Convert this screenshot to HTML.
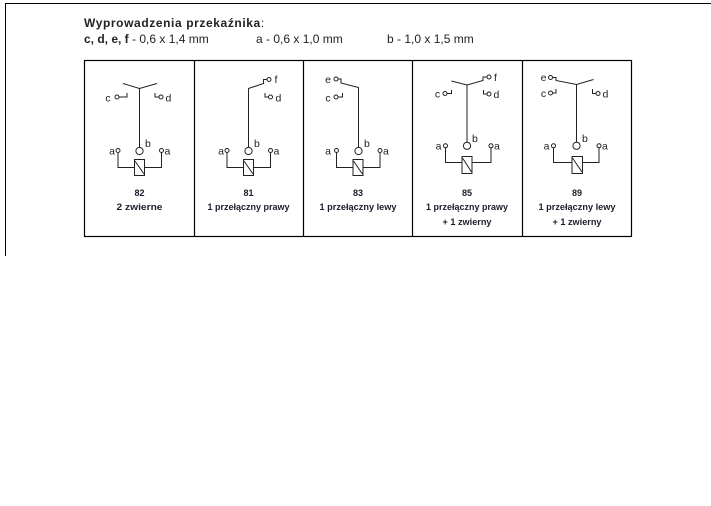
<!DOCTYPE html>
<html><head><meta charset="utf-8"><style>
html,body{margin:0;padding:0;background:#fff;}
svg{display:block;}
text{font-family:"Liberation Sans",sans-serif;}
</style></head><body>
<svg width="711" height="506" viewBox="0 0 711 506" xmlns="http://www.w3.org/2000/svg">
<line x1="5" y1="3.5" x2="711" y2="3.5" stroke="#000" stroke-width="1"/>
<line x1="5.5" y1="3" x2="5.5" y2="256" stroke="#000" stroke-width="1"/>
<text x="84" y="27" font-size="12" font-weight="bold" fill="#222" letter-spacing="0.6">Wyprowadzenia przekaźnika<tspan font-weight="normal">:</tspan></text>
<text x="84" y="43" font-size="12" fill="#222"><tspan font-weight="bold">c, d, e, f</tspan> - 0,6 x 1,4 mm</text>
<text x="256" y="43" font-size="12" fill="#222">a - 0,6 x 1,0 mm</text>
<text x="387" y="43" font-size="12" fill="#222">b - 1,0 x 1,5 mm</text>

<rect x="84.5" y="60.5" width="547" height="176" fill="none" stroke="#000" stroke-width="1.2"/>
<g stroke="#000" stroke-width="1.2">
<line x1="194.5" y1="60" x2="194.5" y2="236"/>
<line x1="303.5" y1="60" x2="303.5" y2="236"/>
<line x1="412.5" y1="60" x2="412.5" y2="236"/>
<line x1="522.5" y1="60" x2="522.5" y2="236"/>
</g>

<g fill="none" stroke="#222" stroke-width="1">
<polyline points="123,83.5 139.5,88.5 157,83.5"/>
<line x1="139.5" y1="88.5" x2="139.5" y2="147"/>
<circle cx="139.5" cy="151" r="3.6"/>
<circle cx="117" cy="97" r="2"/><polyline points="119,97 127,97 127,93"/>
<polyline points="155,93 155,97 159,97"/><circle cx="161" cy="97" r="2"/>
<circle cx="118" cy="150.5" r="2"/><polyline points="118,152.5 118,167.5 134.5,167.5"/>
<rect x="134.5" y="159.5" width="10" height="16"/><line x1="135" y1="161" x2="144" y2="174"/>
<polyline points="144.5,167.5 161.5,167.5 161.5,152.5"/><circle cx="161.5" cy="150.5" r="2"/>

<polyline points="248.5,147 248.5,88.5 263.5,83.5 263.5,79.5 267,79.5"/>
<circle cx="248.5" cy="151" r="3.6"/>
<circle cx="269" cy="79.5" r="2"/>
<polyline points="265,93 265,97 268.5,97"/><circle cx="270.5" cy="97" r="2"/>
<circle cx="227" cy="150.5" r="2"/><polyline points="227,152.5 227,167.5 243.5,167.5"/>
<rect x="243.5" y="159.5" width="10" height="16"/><line x1="244" y1="161" x2="253" y2="174"/>
<polyline points="253.5,167.5 270.5,167.5 270.5,152.5"/><circle cx="270.5" cy="150.5" r="2"/>

<polyline points="358.5,147 358.5,87.5 341,83 341,79 338,79"/>
<circle cx="358.5" cy="151" r="3.6"/>
<circle cx="336" cy="79" r="2"/>
<circle cx="336" cy="97" r="2"/><polyline points="338,97 342.5,97 342.5,93"/>
<circle cx="336.5" cy="150.5" r="2"/><polyline points="336.5,152.5 336.5,167.5 353,167.5"/>
<rect x="353" y="159.5" width="10" height="16"/><line x1="353.5" y1="161" x2="362.5" y2="174"/>
<polyline points="363,167.5 380,167.5 380,152.5"/><circle cx="380" cy="150.5" r="2"/>

<polyline points="451.5,81 467,85 483,80.5 483,77 487,77"/>
<circle cx="489" cy="77" r="2"/>
<line x1="467" y1="85" x2="467" y2="142"/>
<circle cx="467" cy="145.8" r="3.6"/>
<circle cx="445" cy="93.5" r="2"/><polyline points="447,93.5 451.5,93.5 451.5,90"/>
<polyline points="483.5,90 483.5,94 487,94"/><circle cx="489" cy="94" r="2"/>
<circle cx="445.5" cy="145.8" r="2"/><polyline points="445.5,147.8 445.5,162.5 462,162.5"/>
<rect x="462" y="156.5" width="10" height="17"/><line x1="462.5" y1="158" x2="471.5" y2="172"/>
<polyline points="472,162.5 491,162.5 491,147.8"/><circle cx="491" cy="145.8" r="2"/>

<circle cx="550.5" cy="77.5" r="2"/>
<polyline points="552.5,77.5 556,77.5 556,80.5 576.5,84.5 593.5,79.5"/>
<line x1="576.5" y1="84.5" x2="576.5" y2="142"/>
<circle cx="576.5" cy="145.8" r="3.6"/>
<circle cx="550.5" cy="93" r="2"/><polyline points="552.5,93 556,93 556,89"/>
<polyline points="592.5,89 592.5,93.5 596,93.5"/><circle cx="598" cy="93.5" r="2"/>
<circle cx="553.5" cy="145.8" r="2"/><polyline points="553.5,147.8 553.5,162.5 572,162.5"/>
<rect x="572" y="156.5" width="10.5" height="17"/><line x1="572.5" y1="158" x2="582" y2="172"/>
<polyline points="582.5,162.5 599,162.5 599,147.8"/><circle cx="599" cy="145.8" r="2"/>
</g>

<g font-size="10.5" fill="#222">
<text x="108" y="101.5" text-anchor="middle">c</text>
<text x="165.5" y="101.5">d</text>
<text x="145" y="147">b</text>
<text x="112" y="154.5" text-anchor="middle">a</text>
<text x="164.5" y="154.5">a</text>

<text x="274.5" y="83">f</text>
<text x="275.5" y="101.5">d</text>
<text x="254" y="147">b</text>
<text x="221" y="154.5" text-anchor="middle">a</text>
<text x="273.5" y="154.5">a</text>

<text x="328" y="83" text-anchor="middle">e</text>
<text x="328" y="101.5" text-anchor="middle">c</text>
<text x="364" y="147">b</text>
<text x="328" y="154.5" text-anchor="middle">a</text>
<text x="383" y="154.5">a</text>

<text x="494" y="81">f</text>
<text x="493.5" y="98">d</text>
<text x="437.5" y="97.5" text-anchor="middle">c</text>
<text x="472" y="142">b</text>
<text x="438.5" y="149.5" text-anchor="middle">a</text>
<text x="494" y="149.5">a</text>

<text x="543.5" y="81" text-anchor="middle">e</text>
<text x="543.5" y="97" text-anchor="middle">c</text>
<text x="602.5" y="97.5">d</text>
<text x="582" y="142">b</text>
<text x="546.5" y="149.5" text-anchor="middle">a</text>
<text x="602" y="149.5">a</text>
</g>

<g font-size="9" font-weight="bold" fill="#1c1c2c" text-anchor="middle">
<text x="139.5" y="196">82</text>
<text x="139.5" y="210" textLength="46" lengthAdjust="spacingAndGlyphs">2 zwierne</text>
<text x="248.5" y="196">81</text>
<text x="248.5" y="210" textLength="82" lengthAdjust="spacingAndGlyphs">1 przełączny prawy</text>
<text x="358" y="196">83</text>
<text x="358" y="210" textLength="77" lengthAdjust="spacingAndGlyphs">1 przełączny lewy</text>
<text x="467" y="196">85</text>
<text x="467" y="210" textLength="82" lengthAdjust="spacingAndGlyphs">1 przełączny prawy</text>
<text x="467" y="225" textLength="49" lengthAdjust="spacingAndGlyphs">+ 1 zwierny</text>
<text x="577" y="196">89</text>
<text x="577" y="210" textLength="77" lengthAdjust="spacingAndGlyphs">1 przełączny lewy</text>
<text x="577" y="225" textLength="49" lengthAdjust="spacingAndGlyphs">+ 1 zwierny</text>
</g>
</svg>
</body></html>
